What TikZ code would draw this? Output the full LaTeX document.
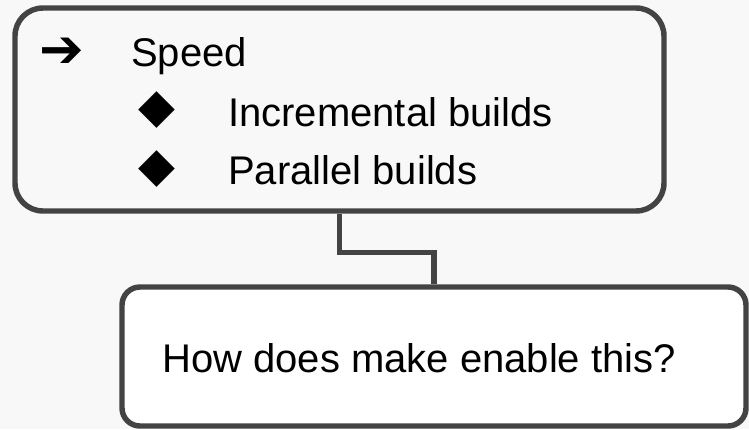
\documentclass[tikz,border=0pt]{standalone}
\usepackage{fontspec}
\setmainfont{Liberation Sans}
\newfontfamily\symfont{DejaVu Sans}
\usetikzlibrary{positioning}
\definecolor{slidebg}{HTML}{F8F8F8}
\definecolor{boxline}{HTML}{434343}
\tikzset{
    x = 0.75pt, y = -0.75pt,                                 % One unit is one pixel, y runs down
    box/.style = {draw=boxline, line width=4.1pt,            % Thick dark outline for both boxes
                  rectangle, inner sep=0pt},
    item/.style = {anchor=base west, inner sep=0pt,          % Text lines inside the boxes
                   font=\fontsize{30}{36}\selectfont},
    arrowsym/.style = {inner sep=0pt,                        % Arrow bullet of the first level
                       font=\symfont\fontsize{40}{46}\selectfont},
    diasym/.style = {inner sep=0pt,                          % Diamond bullets of the second level
                     font=\symfont\fontsize{36}{40}\selectfont}
}

\begin{document}
\begin{tikzpicture}
    % Background
    \fill[slidebg] (0,0) rectangle (749,429);
    \useasboundingbox (0,0) rectangle (749,429);

    % Define boxes
    \node [box, fill=slidebg, rounded corners=21pt,
           minimum width=486.75pt, minimum height=152.25pt] (speedbox) at (339.5,109.5) {};
    \node [box, fill=white, rounded corners=13.5pt,
           minimum width=468pt, minimum height=104.25pt] (askbox) at (434,356.5) {};

    % List in the top box
    \node [arrowsym] (arrow) at (61.5,53) {➔};
    \node [item] (speed) at (131,66) {Speed};
    \node [diasym] (dia1) at (157,110) {◆};
    \node [item] (incr) at (228,126) {Incremental builds};
    \node [diasym] (dia2) at (157,169) {◆};
    \node [item] (para) at (228,184) {Parallel builds};

    % Question in the bottom box
    \node [item] (ask) at (162,372) {How does make enable this?};

    % Draw connector
    \draw [boxline, line width=4.1pt] (speedbox.south) -- ++(0,39) -| (askbox.north);
\end{tikzpicture}
\end{document}
